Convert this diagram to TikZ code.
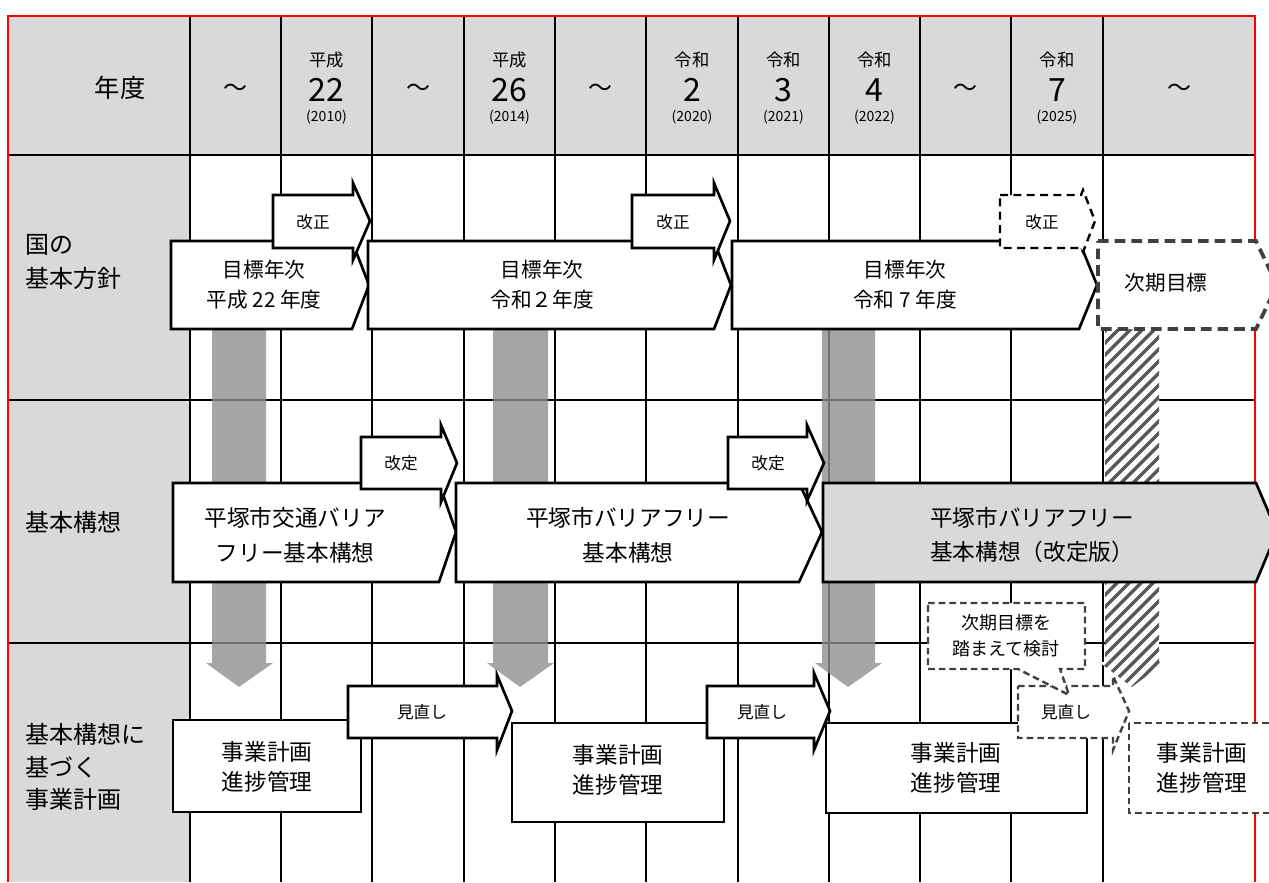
\documentclass[tikz,border=0pt]{standalone}
\usepackage{fontspec}
\setmainfont{Noto Sans CJK JP}
\definecolor{hdr}{HTML}{D9D9D9}
\definecolor{arrg}{HTML}{8F8F8F}
\definecolor{dk}{HTML}{404040}
\definecolor{hatchc}{HTML}{595959}
\begin{document}
\begin{tikzpicture}[x=0.75pt,y=-0.75pt,
  gridline/.style={black,line width=1.3pt},
  boxs/.style={draw=black,fill=white,line width=2pt,line join=miter},
  dboxs/.style={draw=dk,fill=white,line width=1.8pt,dash pattern=on 5pt off 3pt},
  dbigs/.style={draw=dk,fill=white,line width=2.8pt,dash pattern=on 8pt off 4.5pt},
  dsmalls/.style={draw=black,fill=white,line width=1.8pt,dash pattern=on 6pt off 4pt},
  downarr/.style={fill=arrg,fill opacity=0.8,draw=none},
  rowlbl/.style={font=\fontsize{18}{26}\selectfont,align=left,anchor=west,inner sep=0pt},
  hdrtxt/.style={font=\fontsize{19}{22}\selectfont,inner sep=0pt},
  era/.style={font=\fontsize{13}{15}\selectfont,inner sep=0pt},
  num/.style={font=\fontsize{24}{26}\selectfont,inner sep=0pt},
  yr/.style={font=\fontsize{10.5}{12}\selectfont,inner sep=0pt},
  tld/.style={font=\fontsize{18}{20}\selectfont,inner sep=0pt},
  midtxt/.style={font=\fontsize{15.5}{22.5}\selectfont,align=center,inner sep=0pt},
  bigtxt/.style={font=\fontsize{17}{26}\selectfont,align=center,inner sep=0pt},
  smalltxt/.style={font=\fontsize{12.5}{15}\selectfont,align=center,inner sep=0pt},
  calltxt/.style={font=\fontsize{13.5}{19.5}\selectfont,align=center,inner sep=0pt}
]
\useasboundingbox (0,0) rectangle (1269,882);
% backgrounds
\fill[hdr] (8,16) rectangle (1255,155);
\fill[hdr] (8,155) rectangle (190,882);
% grid
\foreach \x in {190,281,372,464,555,646,738,829,920,1011,1103}
  \draw[gridline] (\x,16) -- (\x,882);
\draw[gridline,line width=2.2pt] (8,155) -- (1255,155);
\foreach \y in {400,643} \draw[gridline] (8,\y) -- (1255,\y);
\draw[red,line width=1.5pt] (8,882) -- (8,16) -- (1255,16) -- (1255,882);

% header texts
\node[hdrtxt] (nendo) at (120,88) {年度};
\foreach \cx/\nm in {235.5/a,418/b,600.5/c,965.5/d,1179/e}
  \node[tld] (tl\nm) at (\cx,90) {～};
\foreach \cx/\er/\n/\y/\nm in {326.5/平成/22/2010/a,509.5/平成/26/2014/b,692/令和/2/2020/c,783.5/令和/3/2021/d,874.5/令和/4/2022/e,1057/令和/7/2025/f}{
  \node[era] (era\nm) at (\cx,60) {\er};
  \node[num] (num\nm) at (\cx,90) {\n};
  \node[yr] (yr\nm) at (\cx,117) {(\y)};
}

% row labels
\node[rowlbl] (lblA) at (25,262) {国の\\基本方針};
\node[rowlbl] (lblB) at (25,522) {基本構想};
\node[rowlbl,font=\fontsize{18}{24.5}\selectfont] (lblC) at (25,767) {基本構想に\\基づく\\事業計画};

% gray down arrows
\fill[downarr] (212,300) -- (266,300) -- (266,663) -- (273,663) -- (239,687) -- (206,663) -- (212,663) -- cycle;
\fill[downarr] (493,300) -- (548,300) -- (548,663) -- (554,663) -- (520,687) -- (487,663) -- (493,663) -- cycle;
\fill[downarr] (822,300) -- (875,300) -- (875,663) -- (882,663) -- (848,687) -- (815,663) -- (822,663) -- cycle;
% hatched arrow
\begin{scope}
  \clip (1105,300) -- (1159,300) -- (1159,662) -- (1165,662) -- (1132,687) -- (1099,662) -- (1105,662) -- cycle;
  \fill[white] (1090,290) rectangle (1180,700);
  \foreach \c in {1400,1412,...,1870}
    \draw[hatchc,line width=2.6pt] ({\c-720},720) -- ({\c-280},280);
\end{scope}

% row 1
\draw[boxs] (171,241) -- (352,241) -- (369,285) -- (352,329) -- (171,329) -- cycle;
\draw[boxs] (368,241) -- (714,241) -- (731,285) -- (714,329) -- (368,329) -- cycle;
\draw[boxs] (732,241) -- (1079,241) -- (1097,285) -- (1079,329) -- (732,329) -- cycle;
\draw[dbigs] (1098,241) -- (1256,241) -- (1277,285) -- (1256,329) -- (1098,329) -- cycle;
\node[midtxt] (goal1) at (264,285) {目標年次\\平成 22 年度};
\node[midtxt] (goal2) at (542,285) {目標年次\\令和２年度};
\node[midtxt] (goal3) at (905,285) {目標年次\\令和 7 年度};
\node[midtxt] (goal4) at (1166,283) {次期目標};
\draw[boxs] (273,195) -- (353,195) -- (353,183) -- (370,221) -- (353,260) -- (353,248) -- (273,248) -- cycle;
\node[smalltxt] (kai1) at (313,222) {改正};
\draw[boxs] (632,195) -- (714,195) -- (714,183) -- (730,221) -- (714,260) -- (714,248) -- (632,248) -- cycle;
\node[smalltxt] (kai2) at (673,222) {改正};
\draw[dsmalls] (1000,195) -- (1081,195) -- (1083,190) -- (1095,221) -- (1083,252) -- (1081,248) -- (1000,248) -- cycle;
\node[smalltxt] (kai3) at (1042,222) {改正};

% row 2
\draw[boxs] (173,483) -- (439,483) -- (456,532) -- (439,582) -- (173,582) -- cycle;
\draw[boxs] (456,483) -- (799,483) -- (822,532) -- (799,582) -- (456,582) -- cycle;
\draw[boxs,fill=hdr] (823,483) -- (1256,483) -- (1277,532) -- (1256,582) -- (823,582) -- cycle;
\node[bigtxt] (plan1) at (295,535) {平塚市交通バリア\\フリー基本構想};
\node[bigtxt] (plan2) at (628,535) {平塚市バリアフリー\\基本構想};
\node[bigtxt] (plan3) at (1032,535) {平塚市バリアフリー\\基本構想（改定版）};
\draw[boxs] (361,437) -- (441,437) -- (441,425) -- (457,463) -- (441,502) -- (441,489) -- (361,489) -- cycle;
\node[smalltxt] (rev1) at (401,463) {改定};
\draw[boxs] (728,437) -- (807,437) -- (807,425) -- (824,463) -- (807,501) -- (807,489) -- (728,489) -- cycle;
\node[smalltxt] (rev2) at (768,463) {改定};

% row 3
\draw[boxs] (173,720) rectangle (361,812);
\node[bigtxt,font=\fontsize{17}{23}\selectfont] (biz1) at (267,767) {事業計画\\進捗管理};
\draw[boxs] (512,723) rectangle (724,822);
\node[bigtxt,font=\fontsize{17}{23}\selectfont] (biz2) at (618,770) {事業計画\\進捗管理};
\draw[boxs] (826,723) rectangle (1087,813);
\node[bigtxt,font=\fontsize{17}{23}\selectfont] (biz3) at (956,768) {事業計画\\進捗管理};
\draw[dboxs] (1129,723) rectangle (1285,813);
\node[bigtxt,font=\fontsize{17}{23}\selectfont] (biz4) at (1202,768) {事業計画\\進捗管理};
\draw[boxs] (348,686) -- (497,686) -- (497,675) -- (512,711) -- (497,750) -- (497,738) -- (348,738) -- cycle;
\node[smalltxt] (rv1) at (422,712) {見直し};
\draw[boxs] (707,686) -- (814,686) -- (814,673) -- (830,711) -- (814,750) -- (814,738) -- (707,738) -- cycle;
\node[smalltxt] (rv2) at (762,712) {見直し};
\draw[dboxs] (1018,686) -- (1113,686) -- (1113,676) -- (1129,711) -- (1113,750) -- (1113,738) -- (1018,738) -- cycle;
\node[smalltxt] (rv3) at (1066,712) {見直し};
% callout
\draw[dboxs] (928,603) -- (1085,603) -- (1085,669) -- (1060,669) -- (1069,695) -- (1018,669) -- (928,669) -- cycle;
\node[calltxt] (call) at (1006,636) {次期目標を\\踏まえて検討};
\end{tikzpicture}
\end{document}
